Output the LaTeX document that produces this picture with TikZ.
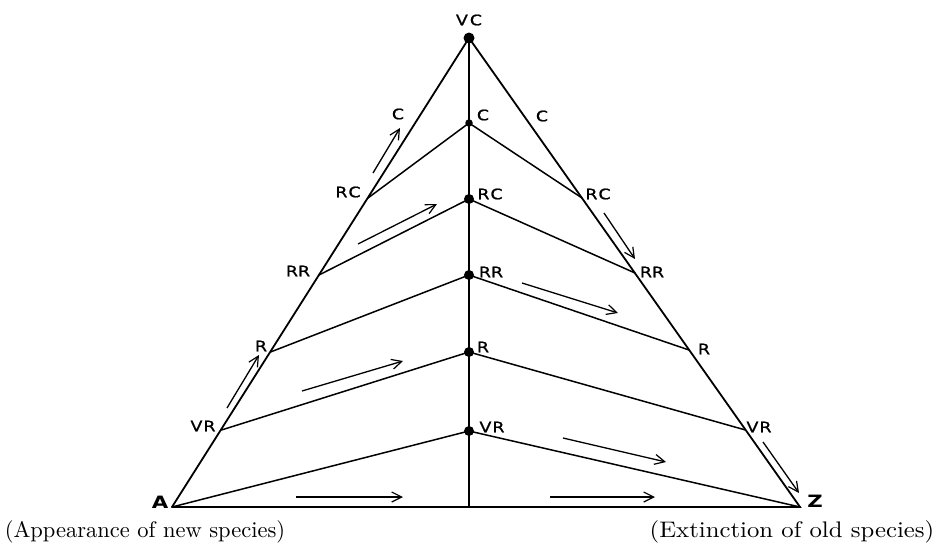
\documentclass[tikz,border=0pt]{standalone}
\usepackage{graphicx}
\usepackage{fontspec}
\newfontfamily\labfont[FakeStretch=1.2,FakeBold=1]{DejaVu Sans}
\newfontfamily\bigfont[FakeStretch=1.25]{DejaVu Sans Bold}
\newfontfamily\capfont{lmroman10-regular.otf}
\usetikzlibrary{arrows.meta}
\begin{document}
\begin{tikzpicture}[x=1pt,y=-1pt,
  edge/.style={line width=1.8pt,line cap=round},
  link/.style={line width=1.5pt,line cap=round},
  flow/.style={line width=1.3pt,-{Straight Barb[length=10pt,width=10pt,line width=1.2pt]}},
  dot/.style={circle,fill=black,inner sep=0pt,minimum size=10pt},
  smalldot/.style={circle,fill=black,inner sep=0pt,minimum size=7.5pt},
  lab/.style={font=\labfont\fontsize{14.5}{14.5}\selectfont,inner sep=0pt},
  big/.style={font=\bigfont\fontsize{17}{17}\selectfont,inner sep=0pt},
  capt/.style={font=\capfont\fontsize{22.5}{24}\selectfont,inner sep=0pt}]
\useasboundingbox (0,0) rectangle (936,554);

% vertices
\coordinate (A) at (172,507);
\coordinate (Z) at (800,507);
\coordinate (B) at (469,507);
\node[dot,minimum size=11pt] (VC) at (469,38) {};

% centre points
\node[smalldot] (cC) at (469,123) {};
\node[dot] (cRC) at (469,199) {};
\node[dot] (cRR) at (469,275) {};
\node[dot] (cR) at (469,352) {};
\node[dot] (cVR) at (469,431) {};

% left edge points
\coordinate (lVR) at (221.5,430);
\coordinate (lR) at (270.5,352);
\coordinate (lRR) at (319,275);
\coordinate (lRC) at (368,198);

% right edge points
\coordinate (rVR) at (745.5,430);
\coordinate (rR) at (689,350);
\coordinate (rRR) at (635,273);
\coordinate (rRC) at (582,198);

% frame
\draw[edge] (A) -- (VC.center) -- (Z) -- (A);
\draw[edge] (VC.center) -- (B);

% cross lines
\draw[link] (A) -- (cVR.center) -- (Z);
\draw[link] (lVR) -- (cR.center) -- (rVR);
\draw[link] (lR) -- (cRR.center) -- (rR);
\draw[link] (lRR) -- (cRC.center) -- (rRR);
\draw[link] (lRC) -- (cC.center) -- (rRC);

% labels
\node[lab] (tVC) at (469,20) {V\kern2ptC};
\node[lab] (tcC) at (483,115) {C};
\node[lab] (trC) at (542,116) {C};
\node[lab] (tlC) at (398,114) {C};
\node[lab] (tcRC) at (490,194) {R\kern1ptC};
\node[lab] (trRC) at (598,194) {R\kern1ptC};
\node[lab] (tlRC) at (348,192) {R\kern1ptC};
\node[lab] (tcRR) at (491,272) {RR};
\node[lab] (trRR) at (652,272) {RR};
\node[lab] (tlRR) at (298,271) {RR};
\node[lab] (tcR) at (483,347) {R};
\node[lab] (trR) at (704,349) {R};
\node[lab] (tlR) at (261,346) {R};
\node[lab] (tcVR) at (492,427) {V\kern1ptR};
\node[lab] (trVR) at (759,427) {V\kern1ptR};
\node[lab] (tlVR) at (203,426) {V\kern1ptR};
\node[big] (tA) at (160,502) {A};
\node[big] (tZ) at (815,501) {Z};

\node[capt] (capL) at (145,532) {(Appearance of new species)};
\node[capt] (capR) at (792,532) {\scalebox{1.1}[1]{(Extinction of old species)}};

% flow arrows
\coordinate (f1s) at (373,173); \coordinate (f1e) at (400,128);
\coordinate (f2s) at (358,244); \coordinate (f2e) at (437,204);
\coordinate (f3s) at (604,213); \coordinate (f3e) at (635,259);
\coordinate (f4s) at (522,283); \coordinate (f4e) at (618,313);
\coordinate (f5s) at (227,408); \coordinate (f5e) at (259,355);
\coordinate (f6s) at (302,391); \coordinate (f6e) at (403,361);
\coordinate (f7s) at (563,438); \coordinate (f7e) at (666,462);
\coordinate (f8s) at (763,442); \coordinate (f8e) at (799,493);
\coordinate (f9s) at (296,497); \coordinate (f9e) at (403,497);
\coordinate (f10s) at (550,497); \coordinate (f10e) at (655,497);
\foreach \i in {1,...,10}{\draw[flow] (f\i s) -- (f\i e);}
\end{tikzpicture}
\end{document}
